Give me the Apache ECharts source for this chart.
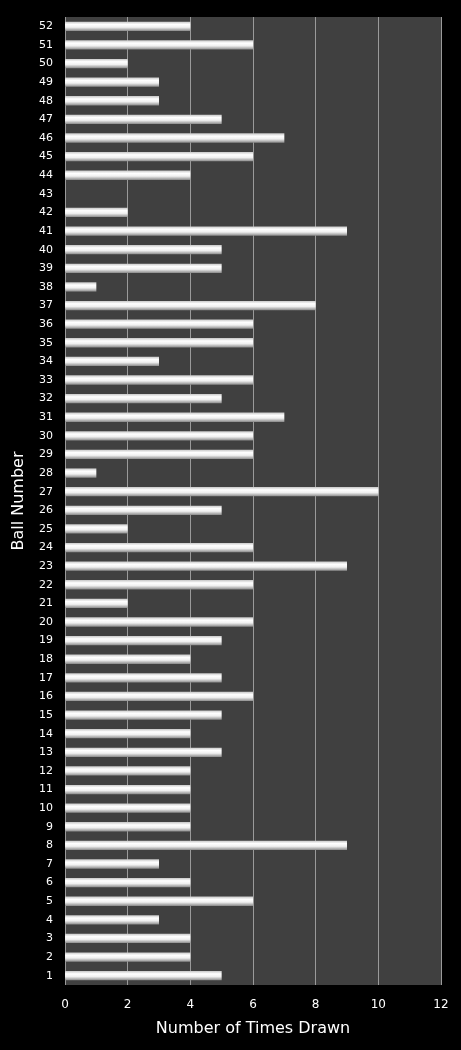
<!DOCTYPE html><html><head><meta charset="utf-8"><script src="https://cdn.jsdelivr.net/npm/echarts@6/dist/echarts.min.js"></script>
<style>body{margin:0;background:#000}#c{width:461px;height:1050px}</style></head><body><div id="c"></div><script>
const balls=[];for(let i=1;i<=52;i++)balls.push(String(i));
const counts=[5,4,4,3,6,4,3,9,4,4,4,4,5,4,5,6,5,4,5,6,2,6,9,6,2,5,10,1,6,6,7,5,6,3,6,6,8,1,5,5,9,2,0,4,6,7,5,3,3,2,6,4];
const xTicks=[0,2,4,6,8,10,12];
const ch=echarts.init(document.getElementById('c'));
ch.setOption({backgroundColor:'#000',animation:false,
grid:{left:65,right:20,top:17,bottom:65,show:true,backgroundColor:'#404040',borderWidth:0},
xAxis:{type:'value',min:0,max:12,interval:2,name:'Number of Times Drawn',nameLocation:'middle',nameGap:36,
nameTextStyle:{color:'#fff',fontSize:16,fontFamily:'DejaVu Sans'},
axisLabel:{color:'#fff',fontSize:12,fontFamily:'DejaVu Sans',margin:14},axisLine:{show:false},axisTick:{show:false},
splitLine:{lineStyle:{color:'#9a9a9a',width:1}}},
yAxis:{type:'category',data:balls,name:'Ball Number',nameLocation:'middle',nameGap:38,
nameTextStyle:{color:'#fff',fontSize:16,fontFamily:'DejaVu Sans'},
axisLabel:{color:'#fff',fontSize:11,fontFamily:'DejaVu Sans',interval:0,margin:12},axisLine:{show:false},axisTick:{show:false}},
series:[{type:'bar',data:counts,barWidth:'50%',
itemStyle:{color:new echarts.graphic.LinearGradient(0,0,0,1,[{offset:0,color:'#c8c8c8'},{offset:0.3,color:'#ffffff'},{offset:0.6,color:'#f0f0f0'},{offset:1,color:'#8a8a8a'}])}}]});
</script></body></html>
